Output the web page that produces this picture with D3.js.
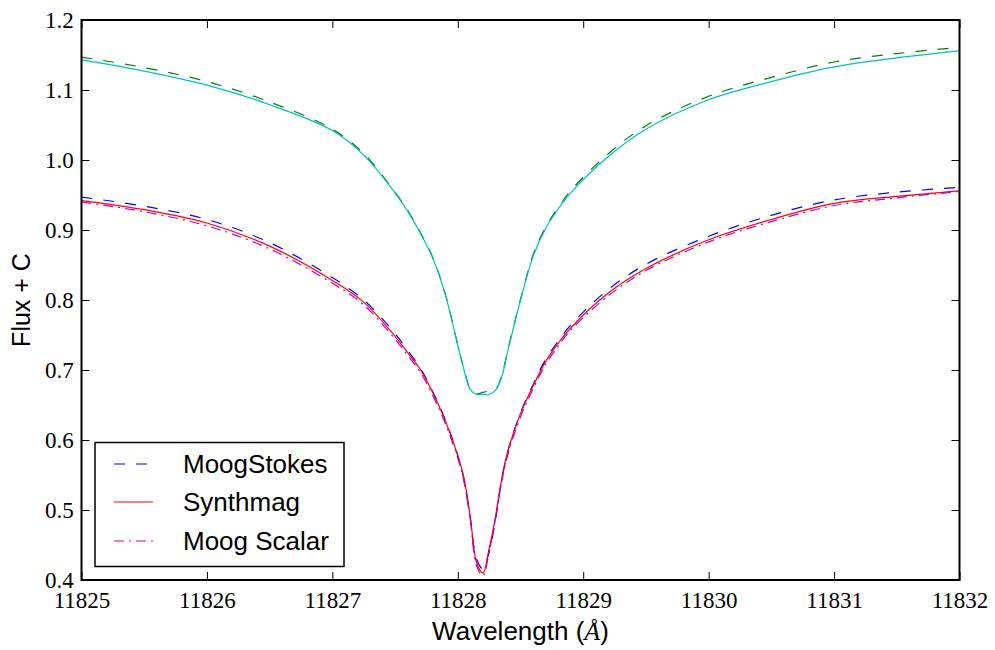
<!DOCTYPE html>
<html>
<head>
<meta charset="utf-8">
<script src="https://cdn.jsdelivr.net/npm/d3@7"></script>
<style>
  html, body { margin: 0; padding: 0; background: #fff; }
  svg { display: block; }
</style>
</head>
<body>
<svg id="chart" width="995" height="650"></svg>
<script>
// ---- data ----
const wavelength = [11825.0, 11825.5, 11826.0, 11826.5, 11827.0, 11827.25, 11827.5, 11827.6, 11827.7, 11827.8, 11827.9,
  11828.0, 11828.05, 11828.1, 11828.15, 11828.2, 11828.25, 11828.3, 11828.35, 11828.4, 11828.5,
  11828.6, 11828.7, 11828.8, 11828.9, 11829.2, 11829.5, 11830.0, 11830.5, 11831.0, 11831.5, 11832.0];

const moogStokes = [0.947, 0.934, 0.915, 0.882, 0.832, 0.800, 0.752, 0.728, 0.703, 0.669, 0.629,
  0.578, 0.543, 0.487, 0.430, 0.416, 0.440, 0.485, 0.542, 0.584, 0.639,
  0.679, 0.715, 0.741, 0.764, 0.815, 0.851, 0.891, 0.921, 0.943, 0.954, 0.961];

const synthmag = [0.942, 0.929, 0.910, 0.877, 0.828, 0.797, 0.748, 0.725, 0.701, 0.668, 0.628,
  0.578, 0.545, 0.490, 0.425, 0.410, 0.445, 0.490, 0.545, 0.585, 0.638,
  0.677, 0.712, 0.738, 0.760, 0.810, 0.845, 0.886, 0.915, 0.938, 0.948, 0.956];

const moogScalar = [0.940, 0.926, 0.906, 0.873, 0.824, 0.793, 0.744, 0.721, 0.697, 0.664, 0.624,
  0.574, 0.540, 0.485, 0.420, 0.406, 0.440, 0.487, 0.540, 0.580, 0.633,
  0.673, 0.708, 0.734, 0.757, 0.806, 0.842, 0.883, 0.912, 0.935, 0.946, 0.955];

const upperDashed = [1.147, 1.132, 1.112, 1.083, 1.044, 1.009, 0.954, 0.928, 0.897, 0.861, 0.809,
  0.736, 0.701, 0.673, 0.666, 0.668, 0.670, 0.672, 0.692, 0.730, 0.801,
  0.864, 0.904, 0.932, 0.956, 1.009, 1.049, 1.091, 1.118, 1.140, 1.152, 1.161];

const upperSolid = [1.143, 1.127, 1.107, 1.079, 1.042, 1.007, 0.953, 0.927, 0.896, 0.860, 0.808,
  0.735, 0.700, 0.672, 0.665, 0.665, 0.665, 0.671, 0.690, 0.728, 0.800,
  0.862, 0.902, 0.930, 0.953, 1.005, 1.044, 1.086, 1.112, 1.133, 1.146, 1.156];

const xTicks = [11825, 11826, 11827, 11828, 11829, 11830, 11831, 11832];
const yTicks = [0.4, 0.5, 0.6, 0.7, 0.8, 0.9, 1.0, 1.1, 1.2];

const legendLabels = ["MoogStokes", "Synthmag", "Moog Scalar"];

// ---- layout ----
const svg = d3.select("#chart");
const L = 81.5, R = 959.5, T = 20, B = 580;

const x = d3.scaleLinear().domain([11825, 11832]).range([L, R]);
const y = d3.scaleLinear().domain([0.4, 1.2]).range([B, T]);

const series = [
  { name: "MoogStokes", values: moogStokes, color: "#0000ff", dash: "11,11" },
  { name: "Synthmag", values: synthmag, color: "#ff0000", dash: null },
  { name: "Moog Scalar", values: moogScalar, color: "#bf00bf", dash: "10,5,2,5" },
  { name: "upper dashed", values: upperDashed, color: "#008000", dash: "11,11" },
  { name: "upper solid", values: upperSolid, color: "#00bfbf", dash: null }
];

svg.append("clipPath").attr("id", "clip")
  .append("rect").attr("x", L).attr("y", T).attr("width", R - L).attr("height", B - T);

const line = d3.line().curve(d3.curveCatmullRom.alpha(0.5));
const plot = svg.append("g").attr("clip-path", "url(#clip)");
series.forEach(s => {
  plot.append("path")
    .attr("d", line(wavelength.map((w, i) => [x(w), y(s.values[i])])))
    .attr("fill", "none")
    .attr("stroke", s.color)
    .attr("stroke-width", 1.2)
    .attr("stroke-dasharray", s.dash);
});

// axes with inward ticks on all sides
const tickLen = 8;
const axB = svg.append("g").attr("transform", `translate(0,${B})`)
  .call(d3.axisBottom(x).tickValues(xTicks).tickSize(-tickLen).tickPadding(10).tickFormat(d3.format("d")));
const axT = svg.append("g").attr("transform", `translate(0,${T})`)
  .call(d3.axisTop(x).tickValues(xTicks).tickSize(-tickLen).tickFormat(""));
const axL = svg.append("g").attr("transform", `translate(${L},0)`)
  .call(d3.axisLeft(y).tickValues(yTicks).tickSize(-tickLen).tickPadding(10).tickFormat(d3.format(".1f")));
const axR = svg.append("g").attr("transform", `translate(${R},0)`)
  .call(d3.axisRight(y).tickValues(yTicks).tickSize(-tickLen).tickFormat(""));

[axB, axT, axL, axR].forEach(a => {
  a.select(".domain").remove();
  a.selectAll(".tick line").attr("stroke", "#000").attr("stroke-width", 1);
  a.selectAll(".tick text")
    .attr("font-family", "'Liberation Serif', 'DejaVu Serif', serif")
    .attr("font-size", 23)
    .attr("fill", "#000");
});
axB.selectAll(".tick text").attr("dy", "0.78em");
axL.selectAll(".tick text").attr("dx", "0.1em");

svg.append("rect").attr("x", L).attr("y", T).attr("width", R - L).attr("height", B - T)
  .attr("fill", "none").attr("stroke", "#000").attr("stroke-width", 2);

// axis labels
svg.append("text")
  .attr("x", (L + R) / 2).attr("y", 640)
  .attr("text-anchor", "middle")
  .attr("font-family", "'Liberation Sans', Arial, sans-serif")
  .attr("font-size", 26)
  .html("Wavelength (<tspan font-family=\"'Liberation Serif', serif\" font-style=\"italic\">Å</tspan>)");

svg.append("text")
  .attr("transform", `translate(30,${(T + B) / 2}) rotate(-90)`)
  .attr("text-anchor", "middle")
  .attr("font-family", "'Liberation Sans', Arial, sans-serif")
  .attr("font-size", 25)
  .text("Flux + C");

// legend
const lg = svg.append("g");
lg.append("rect").attr("x", 95).attr("y", 442.5).attr("width", 249).attr("height", 124)
  .attr("fill", "#fff").attr("stroke", "#000").attr("stroke-width", 1.5);
const legendY = [464, 502, 541];
legendLabels.forEach((lab, i) => {
  const s = series.find(d => d.name === lab);
  lg.append("line").attr("x1", 114).attr("x2", 153).attr("y1", legendY[i]).attr("y2", legendY[i])
    .attr("stroke", s.color).attr("stroke-width", 1.2).attr("stroke-dasharray", s.dash);
  lg.append("text").attr("x", 183).attr("y", legendY[i]).attr("dy", "0.36em")
    .attr("font-family", "'Liberation Sans', Arial, sans-serif")
    .attr("font-size", 26).text(lab);
});
</script>
</body>
</html>
